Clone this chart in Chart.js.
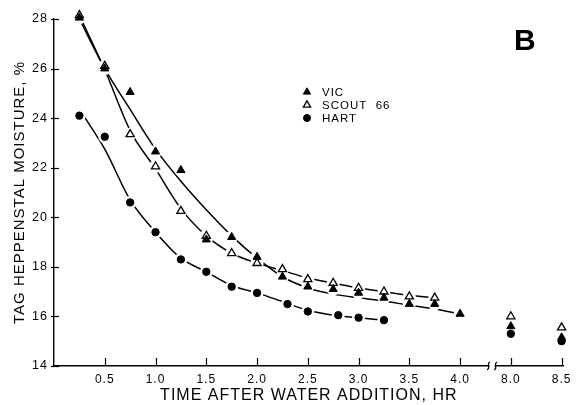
<!DOCTYPE html>
<html>
<head>
<meta charset="utf-8">
<script src="https://cdn.jsdelivr.net/npm/chart.js@4/dist/chart.umd.min.js"></script>
<style>
  body { margin: 0; background: #fff; }
  #wrap { width: 576px; height: 405px; }
</style>
</head>
<body>
<div id="wrap"><canvas id="chart" width="576" height="405"></canvas></div>
<script>
// --- DATA ---
const seriesNames = ['VIC', 'SCOUT 66', 'HART'];

const vicTimes = [0.25, 0.5, 0.75, 1.0, 1.25, 1.5, 1.75, 2.0, 2.25, 2.5, 2.75, 3.0, 3.25, 3.5, 3.75, 4.0, 8.0, 8.5];
const vicMoisture = [28.05, 26.0, 25.05, 22.65, 21.9, 19.1, 19.2, 18.4, 17.6, 17.2, 17.1, 16.95, 16.75, 16.5, 16.5, 16.1, 15.6, 15.15];

const scoutTimes = [0.25, 0.5, 0.75, 1.0, 1.25, 1.5, 1.75, 2.0, 2.25, 2.5, 2.75, 3.0, 3.25, 3.5, 3.75, 8.0, 8.5];
const scoutMoisture = [28.15, 26.1, 23.35, 22.05, 20.25, 19.25, 18.55, 18.15, 17.9, 17.5, 17.35, 17.15, 17.0, 16.8, 16.75, 16.0, 15.55];

const hartTimes = [0.25, 0.5, 0.75, 1.0, 1.25, 1.5, 1.75, 2.0, 2.3, 2.5, 2.8, 3.0, 3.25, 8.0, 8.5];
const hartMoisture = [24.1, 23.25, 20.6, 19.4, 18.3, 17.8, 17.2, 16.95, 16.5, 16.2, 16.05, 15.95, 15.85, 15.3, 15.0];

// fitted curves as drawn on the figure
const vicCurveTimes = [0.25, 0.5, 0.75, 1.0, 1.25, 1.5, 1.75, 2.0, 2.25, 2.5, 2.75, 3.0, 3.25, 3.5, 3.75, 4.0];
const vicCurve = [28.0, 26.0, 24.35, 22.75, 21.45, 20.3, 19.25, 18.35, 17.6, 17.15, 16.9, 16.75, 16.62, 16.45, 16.3, 16.1];
const scoutCurveTimes = [0.25, 0.5, 0.75, 1.0, 1.25, 1.5, 1.75, 2.0, 2.25, 2.5, 2.75, 3.0, 3.25, 3.5, 3.75];
const scoutCurve = [28.15, 25.95, 23.5, 21.95, 20.35, 19.25, 18.55, 18.15, 17.85, 17.55, 17.35, 17.15, 17.0, 16.85, 16.75];
const hartCurveTimes = [0.3, 0.5, 0.75, 1.0, 1.25, 1.5, 1.75, 2.0, 2.25, 2.5, 2.75, 3.0, 3.25];
const hartCurve = [24.05, 22.75, 20.7, 19.4, 18.35, 17.8, 17.25, 16.95, 16.6, 16.25, 16.05, 15.95, 15.85];

const xTickHours = [0.5, 1.0, 1.5, 2.0, 2.5, 3.0, 3.5, 4.0, 8.0, 8.5];
const xTickLabels = ['0.5', '1.0', '1.5', '2.0', '2.5', '3.0', '3.5', '4.0', '8.0', '8.5'];

// broken time axis: 4.5 .. 8.0 hr is cut out
function pos(t) { return t > 4.5 ? t - 3.5 : t; }
function pts(ts, ys) { return ts.map((t, i) => ({ x: pos(t), y: ys[i] })); }

const FONT = "'Liberation Sans', Arial, sans-serif";

function curve(ts, ys) {
    return {
        type: 'scatter', data: pts(ts, ys), showLine: true, cubicInterpolationMode: 'monotone',
        borderColor: '#000', borderWidth: 1.5, pointRadius: 0, clip: false, order: 3
    };
}
function halo(ts, ys) {
    return {
        data: pts(ts, ys), pointStyle: 'circle', pointRadius: 6.5, backgroundColor: '#fff',
        borderWidth: 0, pointBorderWidth: 0, clip: false, order: 2
    };
}

const markerStyles = [
    { pointStyle: 'triangle', radius: 4.7, fill: '#000', borderWidth: 1 },
    { pointStyle: 'triangle', radius: 4.7, fill: '#fff', borderWidth: 1.3 },
    { pointStyle: 'circle', radius: 3.7, fill: '#000', borderWidth: 1 }
];

function markers(ts, ys, s, name) {
    return {
        label: name, data: pts(ts, ys), pointStyle: s.pointStyle, pointRadius: s.radius,
        backgroundColor: s.fill, borderColor: '#000', pointBorderWidth: s.borderWidth,
        clip: false, order: 0
    };
}

// --- EXTRAS: letter spacing, inward ticks, legend, axis break, panel letter ---
const extras = {
    id: 'extras',
    beforeDraw(chart) { chart.ctx.letterSpacing = '1px'; },
    afterDraw(chart) {
        const ctx = chart.ctx;
        const xs = chart.scales.x, ys = chart.scales.y;
        ctx.save();
        ctx.strokeStyle = '#000';
        ctx.lineWidth = 1.2;
        // tick marks pointing into the plot
        xs.ticks.forEach(t => {
            const px = Math.round(xs.getPixelForValue(t.value)) + 0.5;
            ctx.beginPath(); ctx.moveTo(px, xs.top); ctx.lineTo(px, xs.top - 8); ctx.stroke();
        });
        ys.ticks.forEach(t => {
            const py = Math.round(ys.getPixelForValue(t.value)) + 0.5;
            ctx.beginPath(); ctx.moveTo(ys.right - 3, py); ctx.lineTo(ys.right + 5, py); ctx.stroke();
        });
        // axis break
        const y0 = xs.top;
        const a = xs.getPixelForValue(4.28), b = xs.getPixelForValue(4.35);
        ctx.fillStyle = '#fff';
        ctx.fillRect(a + 1, y0 - 2, b - a - 2, 4);
        ctx.lineWidth = 1.1;
        [a, b].forEach(p => {
            ctx.beginPath();
            ctx.moveTo(p - 1.5, y0 + 4);
            ctx.bezierCurveTo(p + 3, y0 + 2, p - 3, y0 - 2, p + 1.5, y0 - 4);
            ctx.stroke();
        });
        // legend
        ctx.font = '11.5px ' + FONT;
        ctx.textBaseline = 'middle';
        ctx.textAlign = 'left';
        const rowY = [92, 105, 118];
        seriesNames.forEach((name, i) => {
            const s = markerStyles[i];
            ctx.fillStyle = s.fill;
            ctx.strokeStyle = '#000';
            ctx.lineWidth = s.borderWidth;
            Chart.helpers.drawPoint(ctx, { pointStyle: s.pointStyle, radius: s.pointStyle === 'circle' ? 3.5 : 4.2, rotation: 0, borderWidth: s.borderWidth }, 307, rowY[i]);
            ctx.fillStyle = '#000';
            ctx.fillText(name.replace(' ', '  '), 322, rowY[i] + 0.5);
        });
        // panel letter
        ctx.font = 'bold 30px ' + FONT;
        ctx.textBaseline = 'alphabetic';
        ctx.letterSpacing = '0px';
        ctx.fillText('B', 514, 50);
        ctx.restore();
    }
};

new Chart(document.getElementById('chart'), {
    type: 'scatter',
    data: {
        datasets: [
            markers(vicTimes, vicMoisture, markerStyles[0], seriesNames[0]),
            markers(scoutTimes, scoutMoisture, markerStyles[1], seriesNames[1]),
            markers(hartTimes, hartMoisture, markerStyles[2], seriesNames[2]),
            halo(vicTimes, vicMoisture),
            halo(scoutTimes, scoutMoisture),
            halo(hartTimes, hartMoisture),
            curve(vicCurveTimes, vicCurve),
            curve(scoutCurveTimes, scoutCurve),
            curve(hartCurveTimes, hartCurve)
        ]
    },
    options: {
        responsive: false,
        animation: false,
        layout: { padding: { top: 19, right: 9, left: 0, bottom: 0 } },
        plugins: { legend: { display: false }, tooltip: { enabled: false } },
        scales: {
            x: {
                type: 'linear', min: 0, max: 5.02,
                afterBuildTicks: (s) => { s.ticks = xTickHours.map(h => ({ value: pos(h) })); },
                afterFit: (s) => { s.height = 39; },
                border: { display: true, color: '#000', width: 1.4 },
                grid: { display: false, drawTicks: false },
                ticks: {
                    color: '#000', padding: 6, maxRotation: 0, autoSkip: false,
                    font: { family: FONT, size: 12 },
                    callback: (v) => { const i = xTickHours.findIndex(h => Math.abs(pos(h) - v) < 1e-6); return i < 0 ? '' : xTickLabels[i]; }
                },
                title: { display: true, text: 'TIME AFTER WATER ADDITION, HR', color: '#000', font: { family: FONT, size: 16 }, padding: { top: 0, bottom: 0 } }
            },
            y: {
                min: 14, max: 28,
                afterFit: (s) => { s.width = 54; },
                border: { display: true, color: '#000', width: 1.4 },
                grid: { display: false, drawTicks: false },
                ticks: { stepSize: 2, color: '#000', padding: 6, font: { family: FONT, size: 12.5 } },
                title: { display: true, text: 'TAG HEPPENSTAL MOISTURE, %', color: '#000', font: { family: FONT, size: 15 }, padding: { top: 11, bottom: 0 } }
            }
        }
    },
    plugins: [extras]
});
</script>
</body>
</html>
